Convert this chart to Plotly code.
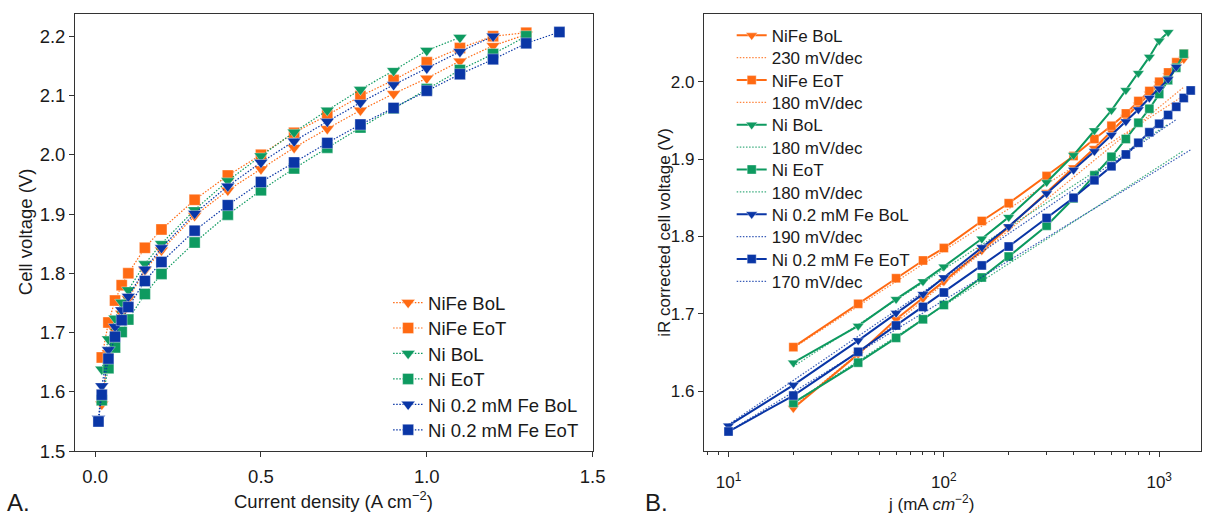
import plotly.graph_objects as go

W, H = 1213, 518

# ---------------- Panel A: cell voltage vs current density ----------------
a_labels = ["NiFe BoL", "NiFe EoT", "Ni BoL", "Ni EoT", "Ni 0.2 mM Fe BoL", "Ni 0.2 mM Fe EoT"]

a_x_nife_bol = [0.02, 0.04, 0.06, 0.08, 0.1, 0.15, 0.2, 0.3, 0.4, 0.5, 0.6, 0.7, 0.8, 0.9, 1.0, 1.1, 1.2, 1.3]
a_v_nife_bol = [1.579, 1.665, 1.703, 1.732, 1.757, 1.805, 1.839, 1.897, 1.940, 1.976, 2.012, 2.044, 2.075, 2.103, 2.129, 2.158, 2.184, 2.203]

a_x_nife_eot = [0.02, 0.04, 0.06, 0.08, 0.1, 0.15, 0.2, 0.3, 0.4, 0.5, 0.6, 0.7, 0.8, 0.9, 1.0, 1.1, 1.2, 1.3]
a_v_nife_eot = [1.658, 1.717, 1.754, 1.780, 1.800, 1.843, 1.874, 1.924, 1.965, 2.000, 2.037, 2.067, 2.099, 2.126, 2.156, 2.180, 2.200, 2.206]

a_x_ni_bol = [0.02, 0.04, 0.06, 0.08, 0.1, 0.15, 0.2, 0.3, 0.4, 0.5, 0.6, 0.7, 0.8, 0.9, 1.0, 1.1]
a_v_ni_bol = [1.638, 1.689, 1.724, 1.751, 1.772, 1.816, 1.850, 1.907, 1.956, 1.998, 2.038, 2.075, 2.110, 2.142, 2.176, 2.198]

a_x_ni_eot = [0.02, 0.04, 0.06, 0.08, 0.1, 0.15, 0.2, 0.3, 0.4, 0.5, 0.6, 0.7, 0.8, 0.9, 1.0, 1.1, 1.2, 1.3]
a_v_ni_eot = [1.586, 1.640, 1.675, 1.701, 1.722, 1.765, 1.799, 1.852, 1.899, 1.940, 1.977, 2.012, 2.046, 2.078, 2.111, 2.143, 2.170, 2.200]

a_x_nife02_bol = [0.01, 0.02, 0.04, 0.06, 0.08, 0.1, 0.15, 0.2, 0.3, 0.4, 0.5, 0.6, 0.7, 0.8, 0.9, 1.0, 1.1, 1.2]
a_v_nife02_bol = [1.555, 1.610, 1.671, 1.710, 1.738, 1.761, 1.807, 1.843, 1.901, 1.947, 1.987, 2.023, 2.056, 2.088, 2.118, 2.146, 2.174, 2.200]

a_x_nife02_eot = [0.01, 0.02, 0.04, 0.06, 0.08, 0.1, 0.15, 0.2, 0.3, 0.4, 0.5, 0.6, 0.7, 0.8, 0.9, 1.0, 1.1, 1.2, 1.3, 1.4]
a_v_nife02_eot = [1.550, 1.595, 1.656, 1.693, 1.721, 1.743, 1.787, 1.819, 1.872, 1.915, 1.954, 1.987, 2.020, 2.051, 2.079, 2.108, 2.136, 2.161, 2.188, 2.207]

# ---------------- Panel B: iR corrected voltage vs j (log) ----------------
b_j_nife_bol = [20, 40, 60, 80, 100, 150, 200, 300, 400, 500, 600, 700, 800, 900, 1000, 1100, 1200, 1300]
b_v_nife_bol = [1.578, 1.648, 1.693, 1.720, 1.742, 1.782, 1.812, 1.857, 1.889, 1.914, 1.936, 1.954, 1.970, 1.984, 1.997, 2.008, 2.019, 2.029]

b_j_nife_eot = [20, 40, 60, 80, 100, 150, 200, 300, 400, 500, 600, 700, 800, 900, 1000, 1100, 1200, 1300]
b_v_nife_eot = [1.657, 1.713, 1.746, 1.769, 1.785, 1.820, 1.843, 1.878, 1.904, 1.926, 1.943, 1.959, 1.975, 1.988, 2.000, 2.012, 2.025, 2.036]

b_j_ni_bol = [20, 40, 60, 80, 100, 150, 200, 300, 400, 500, 600, 700, 800, 900, 1000, 1100]
b_v_ni_bol = [1.637, 1.6845, 1.719, 1.742, 1.761, 1.797, 1.825, 1.870, 1.905, 1.937, 1.963, 1.989, 2.011, 2.032, 2.053, 2.064]

b_j_ni_eot = [20, 40, 60, 80, 100, 150, 200, 300, 400, 500, 600, 700, 800, 900, 1000, 1100, 1200, 1300]
b_v_ni_eot = [1.585, 1.637, 1.669, 1.693, 1.7115, 1.747, 1.774, 1.814, 1.849, 1.879, 1.903, 1.926, 1.947, 1.965, 1.984, 2.002, 2.018, 2.036]

b_j_nife02_bol = [10, 20, 40, 60, 80, 100, 150, 200, 300, 400, 500, 600, 700, 800, 900, 1000, 1100, 1200]
b_v_nife02_bol = [1.5556, 1.608, 1.6655, 1.701, 1.7255, 1.747, 1.786, 1.813, 1.8556, 1.886, 1.910, 1.931, 1.9485, 1.964, 1.979, 1.991, 2.003, 2.019]

b_j_nife02_eot = [10, 20, 40, 60, 80, 100, 150, 200, 300, 400, 500, 600, 700, 800, 900, 1000, 1100, 1200, 1300, 1400]
b_v_nife02_eot = [1.548, 1.5945, 1.651, 1.685, 1.709, 1.7276, 1.7626, 1.787, 1.824, 1.850, 1.8725, 1.8906, 1.906, 1.921, 1.9346, 1.9456, 1.957, 1.9675, 1.979, 1.9887]

# Tafel fit lines (end points)
fit_labels = ["230 mV/dec", "180 mV/dec", "180 mV/dec", "180 mV/dec", "190 mV/dec", "170 mV/dec"]
fit_j_start = [20, 20, 20, 20, 10, 10]
fit_j_end = [1300, 1300, 1100, 1300, 1200, 1400]
fit_v_start = [1.580, 1.656, 1.632, 1.585, 1.557, 1.548]
fit_v_end = [1.993, 1.982, 1.945, 1.911, 1.951, 1.912]

# ---------------- styles ----------------
ORANGE = "#FF6A13"
GREEN = "#0E9A60"
BLUE = "#0A36A6"
colors = [ORANGE, ORANGE, GREEN, GREEN, BLUE, BLUE]
symbols = ["triangle-down", "square", "triangle-down", "square", "triangle-down", "square"]
FONT = "Liberation Sans, Arial, sans-serif"
AXC = "#333333"
TXT = "#1a1a1a"
DOT = "1.5px,1.6px"

a_x = [a_x_nife_bol, a_x_nife_eot, a_x_ni_bol, a_x_ni_eot, a_x_nife02_bol, a_x_nife02_eot]
a_v = [a_v_nife_bol, a_v_nife_eot, a_v_ni_bol, a_v_ni_eot, a_v_nife02_bol, a_v_nife02_eot]
b_j = [b_j_nife_bol, b_j_nife_eot, b_j_ni_bol, b_j_ni_eot, b_j_nife02_bol, b_j_nife02_eot]
b_v = [b_v_nife_bol, b_v_nife_eot, b_v_ni_bol, b_v_ni_eot, b_v_nife02_bol, b_v_nife02_eot]


def px_x(p):
    return p / W


def px_y(p):
    return 1 - p / H


fig = go.Figure()
legends = {}

# Panel A traces; each legend entry gets its own legend box so the spacing matches
a_leg_x, a_leg_y0, a_leg_dy = 392, 309, 25.95
for i in range(6):
    lid = "legend" if i == 0 else "legend%d" % (i + 1)
    legends[lid] = dict(x=px_x(a_leg_x), y=px_y(a_leg_y0 + i * a_leg_dy),
                        xanchor="left", yanchor="middle",
                        bgcolor="rgba(0,0,0,0)", borderwidth=0,
                        font=dict(size=18.5, family=FONT, color=TXT))
    fig.add_trace(go.Scatter(
        x=a_x[i], y=a_v[i], mode="lines+markers", name=a_labels[i],
        xaxis="x", yaxis="y", legend=lid,
        line=dict(color=colors[i], width=1.2, dash=DOT),
        marker=dict(symbol=symbols[i], color=colors[i],
                    size=11 if symbols[i] == "square" else 12,
                    line=dict(width=0.6, color="rgba(255,255,255,0.6)")),
    ))

# Panel B traces
b_leg_x, b_leg_y0, b_leg_dy = 739, 36.5, 22.8
for i in range(6):
    for k in range(2):
        n = 7 + 2 * i + k
        lid = "legend%d" % n
        legends[lid] = dict(x=px_x(b_leg_x), y=px_y(b_leg_y0 + (2 * i + k) * b_leg_dy),
                            xanchor="left", yanchor="middle",
                            bgcolor="rgba(0,0,0,0)", borderwidth=0,
                            font=dict(size=17, family=FONT, color=TXT))
        if k == 0:
            fig.add_trace(go.Scatter(
                x=b_j[i], y=b_v[i], mode="lines+markers", name=a_labels[i],
                xaxis="x2", yaxis="y2", legend=lid,
                line=dict(color=colors[i], width=2),
                marker=dict(symbol=symbols[i], color=colors[i],
                            size=9 if symbols[i] == "square" else 10,
                            line=dict(width=0.6, color="rgba(255,255,255,0.6)")),
            ))
        else:
            fig.add_trace(go.Scatter(
                x=[fit_j_start[i], fit_j_end[i]], y=[fit_v_start[i], fit_v_end[i]],
                mode="lines", name=fit_labels[i],
                xaxis="x2", yaxis="y2", legend=lid,
                line=dict(color=colors[i], width=1.2, dash=DOT), opacity=0.8,
            ))

ydom = [px_y(460), px_y(14)]
axis_common = dict(showline=True, linecolor=AXC, linewidth=1.3, mirror=True,
                   ticks="outside", ticklen=5, tickwidth=1.2, tickcolor=AXC,
                   showgrid=False, zeroline=False)

fig.update_layout(
    width=W, height=H,
    margin=dict(l=0, r=0, t=0, b=0),
    paper_bgcolor="white", plot_bgcolor="white",
    font=dict(family=FONT, color=TXT),
    showlegend=True,
    xaxis=dict(domain=[px_x(76), px_x(599)], range=[-0.06, 1.5015],
               tickvals=[0.0, 0.5, 1.0, 1.5], ticktext=["0.0", "0.5", "1.0", "1.5"],
               tickfont=dict(size=18.5), ticklabelstandoff=4, anchor="y", **axis_common),
    yaxis=dict(domain=ydom, range=[1.5, 2.238],
               tickvals=[1.5, 1.6, 1.7, 1.8, 1.9, 2.0, 2.1, 2.2],
               ticktext=["1.5", "1.6", "1.7", "1.8", "1.9", "2.0", "2.1", "2.2"],
               tickfont=dict(size=18.5), anchor="x", **axis_common),
    xaxis2=dict(domain=[px_x(711), 1.0], type="log", range=[0.886, 3.194],
                tickvals=[10, 100, 1000],
                ticktext=["10<sup>1</sup>", "10<sup>2</sup>", "10<sup>3</sup>"],
                tickfont=dict(size=17), ticklabelstandoff=10, anchor="y2",
                minor=dict(ticks="outside", ticklen=3, tickwidth=1, tickcolor=AXC, showgrid=False,
                           tickvals=[8, 9, 20, 30, 40, 50, 60, 70, 80, 90,
                                     200, 300, 400, 500, 600, 700, 800, 900]),
                **axis_common),
    yaxis2=dict(domain=ydom, range=[1.5227, 2.0878],
                tickvals=[1.6, 1.7, 1.8, 1.9, 2.0],
                ticktext=["1.6", "1.7", "1.8", "1.9", "2.0"],
                tickfont=dict(size=17), anchor="x2", **axis_common),
)
fig.update_layout(**legends)

annotations = [
    dict(text="Current density (A cm<sup>\u22122</sup>)", x=px_x(337), y=px_y(510),
         font=dict(size=18.5)),
    dict(text="Cell voltage (V)", x=px_x(26), y=px_y(237), textangle=-90,
         font=dict(size=18.5)),
    dict(text="j (mA <i>cm</i><sup>\u22122</sup>)", x=px_x(940), y=px_y(513),
         font=dict(size=17)),
    dict(text="iR corrected cell voltage (V)", x=px_x(671), y=px_y(237), textangle=-90,
         font=dict(size=17)),
    dict(text="A.", x=px_x(19), y=px_y(512), font=dict(size=24)),
    dict(text="B.", x=px_x(663), y=px_y(512), font=dict(size=24)),
]
for a in annotations:
    a.update(xref="paper", yref="paper", showarrow=False, xanchor="center", yanchor="middle")
    a["font"].update(family=FONT, color=TXT)
fig.update_layout(annotations=annotations)

fig.write_html("out.html")
